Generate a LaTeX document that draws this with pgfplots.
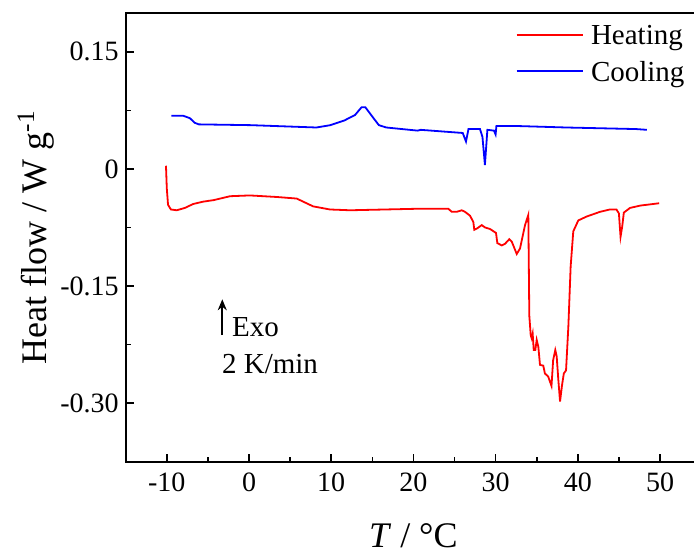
\documentclass[border=0pt]{standalone}
\usepackage{fontspec}
\setmainfont{Liberation Serif}
\usepackage{pgfplots}
\pgfplotsset{compat=1.18}
\usetikzlibrary{arrows.meta}
\begin{document}
\begin{tikzpicture}
\begin{axis}[
  scale only axis,
  width=287.7pt, height=224.5pt,
  xmin=-15, xmax=55, ymin=-0.375, ymax=0.2,
  axis line style={line width=1pt},
  tick style={line width=0.8pt, black},
  tick align=inside, tick pos=left,
  major tick length=4pt, minor tick length=2.5pt,
  xtick={-10,0,10,20,30,40,50},
  xticklabels={-10,0,10,20,30,40,50},
  minor x tick num=1,
  ytick={-0.3,-0.15,0,0.15},
  yticklabels={-0.30,-0.15,0,0.15},
  minor y tick num=1,
  ticklabel style={font=\fontsize{14}{16}\selectfont},
  xticklabel style={yshift=-2.3pt},
  xlabel={\textit{T} / °C},
  ylabel={Heat flow / W g\textsuperscript{-1}},
  label style={font=\fontsize{18}{20}\selectfont},
  xlabel style={at={(axis description cs:0.5,-0.19)}, anchor=base},
  ylabel style={at={(axis description cs:-0.1373,0.5)}, anchor=base},
  every axis plot/.append style={line width=0.9pt},
]
\addplot[red] coordinates {
(-10.1,0.004) (-10.0,-0.025) (-9.85,-0.046) (-9.5,-0.052) (-8.8,-0.053)
(-7.8,-0.050) (-6.8,-0.045) (-5.6,-0.042) (-4.3,-0.040) (-2.3,-0.035)
(0.1,-0.034) (3.4,-0.036) (5.8,-0.038) (6.6,-0.042) (7.8,-0.048)
(9.85,-0.052) (12.3,-0.053) (20.8,-0.051) (24.25,-0.051) (24.66,-0.055)
(25.27,-0.055) (25.88,-0.053) (26.28,-0.055) (26.89,-0.060) (27.29,-0.068)
(27.41,-0.078) (27.78,-0.076) (28.31,-0.072) (28.71,-0.075) (29.32,-0.077)
(30.05,-0.082) (30.21,-0.095) (30.74,-0.098) (31.14,-0.096) (31.67,-0.090)
(31.96,-0.093) (32.57,-0.109) (32.97,-0.102) (33.58,-0.072) (33.98,-0.059)
(34.1,-0.188) (34.27,-0.213) (34.39,-0.217) (34.51,-0.211) (34.64,-0.232)
(34.83,-0.232) (35.0,-0.219) (35.2,-0.228) (35.4,-0.251) (35.8,-0.252)
(36.0,-0.262) (36.4,-0.266) (36.6,-0.272) (36.8,-0.278) (37.0,-0.245)
(37.26,-0.232) (37.43,-0.240) (37.63,-0.270) (37.84,-0.298) (38.08,-0.277)
(38.3,-0.262) (38.57,-0.258) (38.85,-0.202) (39.13,-0.125) (39.45,-0.080)
(40.06,-0.066) (41.08,-0.061) (42.7,-0.055) (43.9,-0.052) (44.7,-0.052)
(45.0,-0.057) (45.2,-0.087) (45.4,-0.074) (45.6,-0.056) (46.35,-0.050)
(47.6,-0.047) (49.9,-0.044)
};
\addplot[blue] coordinates {
(-9.43,0.068) (-8.0,0.068) (-7.2,0.065) (-6.6,0.059) (-6.1,0.057)
(0.2,0.056) (8.2,0.053) (9.9,0.056) (11.6,0.062) (12.9,0.069)
(13.7,0.079) (14.15,0.079) (15.0,0.067) (15.8,0.056) (16.7,0.053)
(20.5,0.049) (20.9,0.050) (24.7,0.047) (26.0,0.046) (26.4,0.035)
(26.7,0.051) (28.1,0.051) (28.4,0.041) (28.7,0.005) (29.0,0.050)
(29.8,0.049) (30.0,0.044) (30.1,0.055) (32.3,0.055) (38.6,0.053)
(47.1,0.051) (48.4,0.050)
};
% legend
\draw[red, line width=1.1pt] (axis description cs:0.6794,0.9503) -- (axis description cs:0.7946,0.9503);
\draw[blue, line width=1.1pt] (axis description cs:0.6794,0.8700) -- (axis description cs:0.7946,0.8700);
\node[anchor=base west, inner sep=0pt, font=\fontsize{14.5}{16}\selectfont] at (axis description cs:0.8080,0.9281) {Heating};
\node[anchor=base west, inner sep=0pt, font=\fontsize{14.5}{16}\selectfont] at (axis description cs:0.8080,0.8463) {Cooling};
% annotation
\draw[-{Stealth[length=5.5pt,width=4.5pt]}, line width=0.9pt] (axis cs:-3.25,-0.213) -- (axis cs:-3.25,-0.167);
\node[anchor=base west, inner sep=0pt, font=\fontsize{14.5}{16}\selectfont] at (axis cs:-2.1,-0.215) {Exo};
\node[anchor=base west, inner sep=0pt, font=\fontsize{14.5}{16}\selectfont] at (axis cs:-3.32,-0.262) {2 K/min};
\end{axis}
\pgfresetboundingbox
\path (-62.85pt,-45.15pt) rectangle (284.15pt,230.85pt);
\end{tikzpicture}
\end{document}
